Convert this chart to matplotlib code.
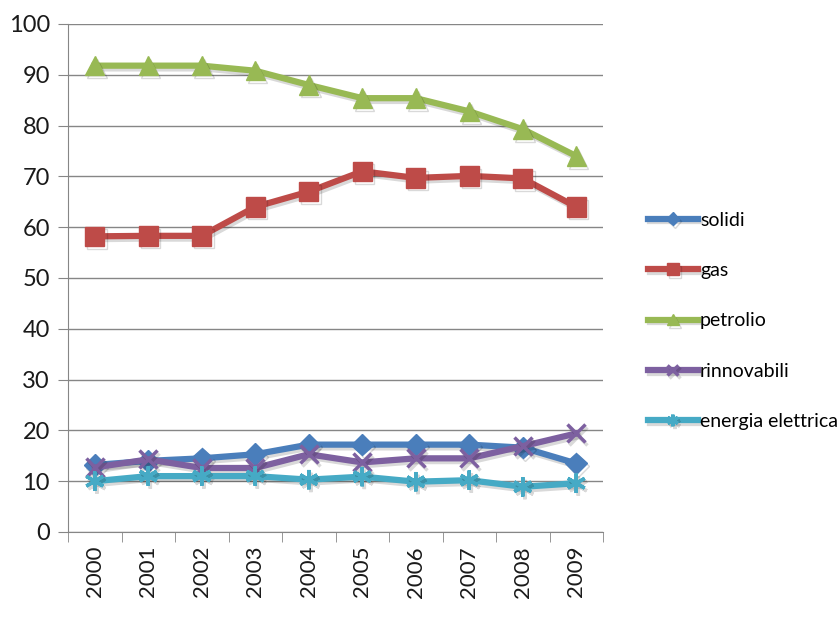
import numpy as np
import matplotlib
matplotlib.use("Agg")
from matplotlib import pyplot as plt
import matplotlib.patheffects as pe

years = ["2000", "2001", "2002", "2003", "2004", "2005", "2006", "2007", "2008", "2009"]
solidi = [13.2, 14.0, 14.5, 15.3, 17.2, 17.2, 17.2, 17.2, 16.6, 13.5]
gas = [58.2, 58.3, 58.3, 64.0, 67.0, 71.0, 69.7, 70.1, 69.6, 64.0]
petrolio = [91.8, 91.8, 91.8, 90.8, 88.0, 85.4, 85.4, 82.8, 79.3, 74.0]
rinnovabili = [12.7, 14.3, 12.6, 12.6, 15.3, 13.7, 14.5, 14.5, 16.9, 19.4]
energia = [10.0, 11.0, 11.0, 11.0, 10.3, 10.9, 9.9, 10.2, 8.9, 9.6]

series = [
    ("solidi", solidi, "#4a7ebb", "D", 11),
    ("gas", gas, "#be4b48", "s", 14),
    ("petrolio", petrolio, "#98b954", "^", 14),
    ("rinnovabili", rinnovabili, "#7d60a0", "x", 13),
    ("energia elettrica", energia, "#46aac5", (6, 2, 0), 14),
]

plt.rcParams["font.family"] = ["Lato", "DejaVu Sans"]

fig = plt.figure(figsize=(8.38, 6.23), dpi=100)
ax = fig.add_axes([68 / 838, 1 - 532 / 623, (603 - 68) / 838, (532 - 24) / 623])

x = np.arange(len(years))
shadow = [pe.SimpleLineShadow(offset=(1.5, -2), alpha=0.15), pe.Normal()]
for name, vals, col, mk, ms in series:
    mew = 2.5 if mk in ("x", (6, 2, 0)) else 1
    ax.plot(x, vals, color=col, lw=4.5, marker=mk, markersize=ms,
            markeredgewidth=mew, markeredgecolor=col, label=name,
            path_effects=shadow)

ax.set_xlim(-0.5, len(years) - 0.5)
ax.set_ylim(0, 100)
ax.set_yticks(np.arange(0, 101, 10))
ax.yaxis.grid(True, color="#868686", lw=1)
ax.set_axisbelow(True)

ax.set_xticks(x)
ax.set_xticklabels(years, rotation=90, fontsize=16)
ax.set_xticks(np.arange(-0.5, len(years)), minor=True)
ax.tick_params(axis="x", which="major", length=0, pad=10, colors="#1a1a1a")
ax.tick_params(axis="x", which="minor", length=7, color="#868686", direction="out")
ax.tick_params(axis="y", length=7, color="#868686", labelsize=17, pad=6,
               labelcolor="#1a1a1a")

for s in ["top", "right"]:
    ax.spines[s].set_visible(False)
for s in ["left", "bottom"]:
    ax.spines[s].set_color("#868686")

leg = fig.legend(loc="upper left", bbox_to_anchor=(630 / 838, 1 - 194 / 623),
                 frameon=False, fontsize=14, labelspacing=1.72,
                 handlelength=2.6, handletextpad=0.1, markerscale=0.6)

fig.savefig("out.png", dpi=100)
